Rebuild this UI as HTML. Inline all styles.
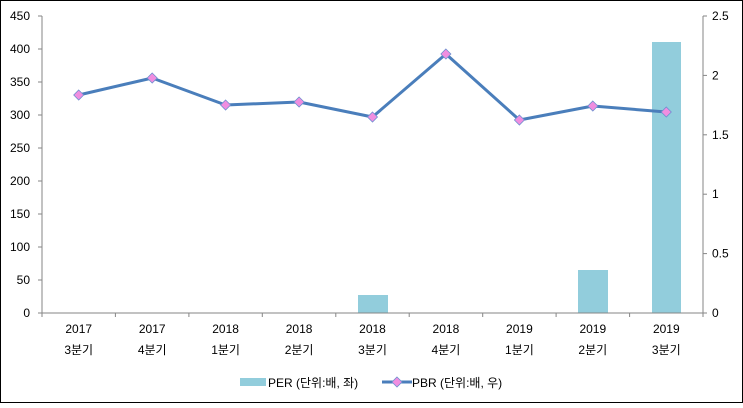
<!DOCTYPE html>
<html><head><meta charset="utf-8"><style>
body{margin:0;background:#fff;}
svg text{font-family:"Liberation Sans","Noto Sans CJK KR",sans-serif;font-size:12px;fill:#000;}
</style></head><body>
<svg width="743" height="403" viewBox="0 0 743 403">
<rect x="0.5" y="0.5" width="742" height="402" fill="#fff" stroke="#000"/>
<line x1="42" y1="16" x2="42" y2="313" stroke="#868686"/>
<g stroke="#868686">
<line x1="38" y1="313" x2="42" y2="313"/><line x1="38" y1="280" x2="42" y2="280"/><line x1="38" y1="247" x2="42" y2="247"/><line x1="38" y1="214" x2="42" y2="214"/><line x1="38" y1="181" x2="42" y2="181"/><line x1="38" y1="148" x2="42" y2="148"/><line x1="38" y1="115" x2="42" y2="115"/><line x1="38" y1="82" x2="42" y2="82"/><line x1="38" y1="49" x2="42" y2="49"/><line x1="38" y1="16" x2="42" y2="16"/>
</g>
<g text-anchor="end">
<text x="30" y="317">0</text><text x="30" y="284">50</text><text x="30" y="251">100</text><text x="30" y="218">150</text><text x="30" y="185">200</text><text x="30" y="152">250</text><text x="30" y="119">300</text><text x="30" y="86">350</text><text x="30" y="53">400</text><text x="30" y="20">450</text>
</g>
<line x1="703" y1="16" x2="703" y2="313" stroke="#868686"/>
<g stroke="#868686">
<line x1="703" y1="313" x2="707" y2="313"/><line x1="703" y1="253.6" x2="707" y2="253.6"/><line x1="703" y1="194.2" x2="707" y2="194.2"/><line x1="703" y1="134.8" x2="707" y2="134.8"/><line x1="703" y1="75.4" x2="707" y2="75.4"/><line x1="703" y1="16" x2="707" y2="16"/>
</g>
<g>
<text x="712" y="317">0</text><text x="712" y="257.6">0.5</text><text x="712" y="198.2">1</text><text x="712" y="138.8">1.5</text><text x="712" y="79.4">2</text><text x="712" y="20">2.5</text>
</g>
<rect x="358" y="295" width="30" height="18" fill="#92cddc"/>
<rect x="578" y="270" width="30" height="43" fill="#92cddc"/>
<rect x="652" y="42" width="29" height="271" fill="#92cddc"/>
<line x1="42" y1="313" x2="703" y2="313" stroke="#868686"/>
<g stroke="#868686">
<line x1="42" y1="313" x2="42" y2="317"/><line x1="115.4" y1="313" x2="115.4" y2="317"/><line x1="188.9" y1="313" x2="188.9" y2="317"/><line x1="262.3" y1="313" x2="262.3" y2="317"/><line x1="335.8" y1="313" x2="335.8" y2="317"/><line x1="409.2" y1="313" x2="409.2" y2="317"/><line x1="482.7" y1="313" x2="482.7" y2="317"/><line x1="556.1" y1="313" x2="556.1" y2="317"/><line x1="629.6" y1="313" x2="629.6" y2="317"/><line x1="703" y1="313" x2="703" y2="317"/>
</g>
<g text-anchor="middle">
<text x="78.7" y="333">2017</text><text x="78.7" y="354">3분기</text>
<text x="152.2" y="333">2017</text><text x="152.2" y="354">4분기</text>
<text x="225.6" y="333">2018</text><text x="225.6" y="354">1분기</text>
<text x="299.1" y="333">2018</text><text x="299.1" y="354">2분기</text>
<text x="372.5" y="333">2018</text><text x="372.5" y="354">3분기</text>
<text x="445.9" y="333">2018</text><text x="445.9" y="354">4분기</text>
<text x="519.4" y="333">2019</text><text x="519.4" y="354">1분기</text>
<text x="592.8" y="333">2019</text><text x="592.8" y="354">2분기</text>
<text x="666.3" y="333">2019</text><text x="666.3" y="354">3분기</text>
</g>
<polyline points="78.7,95 152.2,78 225.6,105 299.1,102 372.5,117 445.9,54 519.4,120 592.8,106 666.3,112" fill="none" stroke="#4a7ebb" stroke-width="3" stroke-linejoin="round"/>
<g fill="#f08ee0" stroke="#6f8fd0" stroke-width="0.8">
<path d="M78.7,90 l5,5 -5,5 -5,-5z"/><path d="M152.2,73 l5,5 -5,5 -5,-5z"/><path d="M225.6,100 l5,5 -5,5 -5,-5z"/><path d="M299.1,97 l5,5 -5,5 -5,-5z"/><path d="M372.5,112 l5,5 -5,5 -5,-5z"/><path d="M445.9,49 l5,5 -5,5 -5,-5z"/><path d="M519.4,115 l5,5 -5,5 -5,-5z"/><path d="M592.8,101 l5,5 -5,5 -5,-5z"/><path d="M666.3,107 l5,5 -5,5 -5,-5z"/>
</g>
<rect x="240" y="378" width="26" height="8" fill="#92cddc"/>
<text x="268" y="387">PER (단위:배, 좌)</text>
<line x1="382" y1="382" x2="412" y2="382" stroke="#4a7ebb" stroke-width="3"/>
<path d="M397,377 l5,5 -5,5 -5,-5z" fill="#f08ee0" stroke="#6f8fd0" stroke-width="0.8"/>
<text x="412" y="387">PBR (단위:배, 우)</text>
</svg>
</body></html>
